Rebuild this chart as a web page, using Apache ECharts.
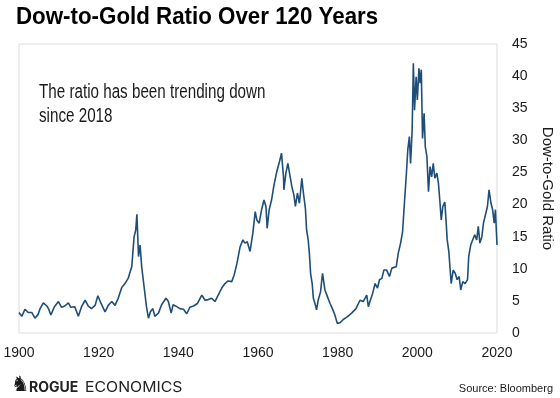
<!DOCTYPE html>
<html>
<head>
<meta charset="utf-8">
<script src="https://cdn.jsdelivr.net/npm/echarts@6/dist/echarts.min.js"></script>
<style>
html,body{margin:0;padding:0;background:#fff;}
#chart{width:560px;height:398px;}
</style>
</head>
<body>
<div id="chart"></div>
<script>
// Data (approximate)
const years = [
1900.0,1900.7,1901.5,1902.3,1903.2,1904.0,1904.8,1905.3,1906.1,1907.0,1907.4,1908.0,1908.9,1909.9,
1910.7,1911.5,1912.4,1913.0,1914.0,1914.9,1915.7,1916.6,1917.4,1918.2,1919.1,1919.8,
1920.6,1921.6,1922.4,1923.3,1924.1,1924.9,1925.8,1926.6,1927.4,1928.3,1928.9,1929.3,1929.6,
1930.0,1930.4,1930.8,1931.5,1932.0,1932.5,1933.0,1933.6,1934.1,1935.0,1935.8,1936.9,1937.5,1938.2,1938.7,1939.6,
1940.4,1941.3,1942.1,1942.9,1943.8,1944.8,1945.9,1946.7,1947.5,1948.4,1949.2,
1950.0,1950.9,1951.7,1952.5,1953.4,1954.0,1954.7,1955.5,1956.2,1956.7,1957.3,1958.0,1958.7,1959.3,1959.7,
1960.3,1960.9,1961.5,1962.0,1962.3,1962.8,1963.4,1964.0,1964.7,1965.4,1965.9,1966.4,1966.5,1967.0,1967.5,1968.0,1968.5,1969.0,1969.4,1969.9,
1970.4,1971.0,1971.4,1971.9,1972.2,1972.6,1972.9,1973.2,1973.6,1973.9,1974.3,1974.7,1975.1,1975.7,1976.2,1976.8,1977.4,1978.1,1978.8,1979.3,1979.9,
1980.6,1981.4,1982.4,1983.5,1984.6,1985.6,1986.4,1987.3,1987.7,1988.1,1988.8,1989.4,
1990.0,1990.5,1991.1,1991.6,1992.3,1993.0,1993.6,1994.1,1994.7,1995.2,1995.8,1996.3,1996.7,1997.2,1997.6,1998.0,1998.3,1998.7,1999.0,1999.3,1999.7,
2000.0,2000.4,2000.7,2001.0,2001.3,2001.7,2002.0,2002.4,2002.8,2003.2,2003.6,2004.0,2004.4,2004.9,2005.3,2005.7,2006.0,2006.4,2006.9,2007.2,2007.5,2007.9,2008.2,2008.5,2009.0,2009.5,
2010.0,2010.5,2010.9,2011.4,2012.0,2012.6,2012.9,2013.4,2013.9,2014.4,2014.9,2015.3,2015.7,2016.2,2016.6,2017.1,2017.6,2018.0,2018.5,2018.9,2019.3,2019.6,2020.0
];
const ratio = [
3.2,2.6,3.7,3.2,3.2,2.3,2.9,3.8,4.7,4.2,3.8,2.8,4.1,4.9,
4.0,4.2,4.7,4.0,4.1,2.6,4.1,5.1,4.2,3.8,4.3,5.8,
4.6,3.3,4.3,4.9,4.3,5.4,7.1,7.7,8.5,10.3,15.0,16.0,18.5,
11.9,13.7,10.3,6.7,4.1,2.3,3.3,3.8,2.6,3.1,4.4,5.4,4.9,3.1,4.4,4.1,
3.8,3.7,3.0,4.0,4.2,4.6,5.9,5.1,5.2,5.4,4.9,
5.9,7.0,7.7,8.1,8.0,9.0,10.8,13.4,14.5,14.0,14.2,12.7,15.5,18.9,17.6,
17.1,19.2,20.7,19.7,16.3,19.2,20.7,23.0,25.1,26.7,28.0,24.3,22.3,24.9,26.4,24.6,22.8,21.5,19.7,21.8,
20.2,24.1,21.8,19.4,16.0,14.5,12.4,9.3,7.7,5.4,4.6,3.6,5.1,6.4,9.3,6.7,5.7,4.6,3.6,2.8,1.5,
1.6,2.1,2.5,3.1,3.8,5.1,4.9,5.9,4.1,4.9,6.2,7.7,
7.0,8.3,8.5,9.8,9.8,8.8,10.1,9.8,10.3,12.4,14.0,15.8,19.7,24.3,28.5,30.6,26.4,31.6,42.0,34.7,39.9,
36.3,41.2,38.9,41.0,30.3,34.2,29.0,27.5,22.0,25.9,24.3,26.4,24.1,24.9,23.3,20.2,17.6,19.7,20.4,17.6,14.5,12.7,12.4,7.7,9.8,9.3,
8.3,8.8,6.7,8.0,7.7,8.3,11.9,13.7,13.4,15.3,14.5,16.6,14.0,15.0,17.1,17.3,19.7,22.3,20.2,19.2,17.1,19.2,13.7
];
const xTicks = [1900, 1920, 1940, 1960, 1980, 2000, 2020];
const yTicks = [0, 5, 10, 15, 20, 25, 30, 35, 40, 45];

const titleText = 'Dow-to-Gold Ratio Over 120 Years';
const noteText = 'The ratio has been trending down\nsince 2018';
const yName = 'Dow-to-Gold Ratio';
const sourceText = 'Source: Bloomberg';

const SANS = '"Liberation Sans", Arial, sans-serif';

const chart = echarts.init(document.getElementById('chart'), null, {renderer: 'canvas'});
chart.setOption({
  animation: false,
  backgroundColor: '#ffffff',
  grid: {left: 19, right: 63, top: 44, bottom: 65, show: true, borderColor: '#dcdcdc', borderWidth: 1,
         containLabel: false, outerBoundsMode: 'none'},
  xAxis: {
    type: 'value', min: xTicks[0], max: xTicks[xTicks.length - 1], interval: 20,
    axisLine: {show: false}, axisTick: {show: false}, splitLine: {show: false},
    axisLabel: {margin: 13, fontSize: 14, fontFamily: SANS, color: '#1a1a1a', formatter: v => String(v)}
  },
  yAxis: {
    type: 'value', position: 'right', min: yTicks[0], max: yTicks[yTicks.length - 1], interval: 5,
    axisLine: {show: false}, axisTick: {show: false}, splitLine: {show: false},
    axisLabel: {margin: 15, fontSize: 14, fontFamily: SANS, color: '#1a1a1a'},
    name: yName, nameLocation: 'middle', nameRotate: -90, nameGap: 43,
    nameTextStyle: {fontSize: 15, fontFamily: SANS, color: '#1a1a1a'}
  },
  series: [{
    type: 'line', data: years.map((y, i) => [y, ratio[i]]), showSymbol: false,
    lineStyle: {color: '#1f4e79', width: 1.6}, itemStyle: {color: '#1f4e79'}
  }],
  graphic: [
    {type: 'text', left: 16, top: 5, scaleX: 0.93, style: {text: titleText, font: 'bold 24px ' + SANS, fill: '#000'}},
    {type: 'text', left: 39, top: 80, scaleX: 0.76, style: {text: noteText, font: '20px ' + SANS, fill: '#1a1a1a', lineHeight: 24}},
    {type: 'text', left: 11, top: 375, style: {text: '\u265E', font: '21px "DejaVu Sans", sans-serif', fill: '#1a1a1a'}},
    {type: 'text', left: 29, top: 381, style: {text: 'ROGUE', font: 'bold 14px Inter, "DejaVu Sans", sans-serif', fill: '#222'}},
    {type: 'text', left: 85, top: 381, scaleX: 1.13, style: {text: 'ECONOMICS', font: '14px Inter, "DejaVu Sans", sans-serif', fill: '#222'}},
    {type: 'text', right: 7, top: 383, style: {text: sourceText, font: '11px ' + SANS, fill: '#1a1a1a'}}
  ]
});
</script>
</body>
</html>
